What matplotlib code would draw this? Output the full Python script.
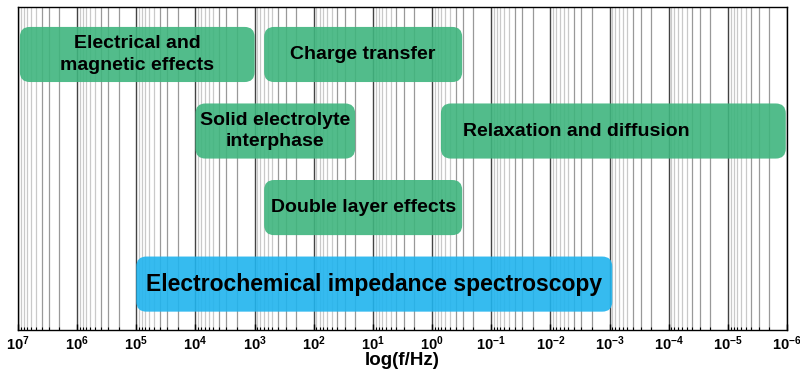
import numpy as np
import matplotlib.pyplot as plt
from matplotlib.patches import FancyBboxPatch
from matplotlib.ticker import LogLocator, FuncFormatter, NullFormatter

plt.rcParams['font.family'] = ['Liberation Sans', 'DejaVu Sans']
plt.rcParams['font.weight'] = 'bold'
plt.rcParams['mathtext.fontset'] = 'custom'
plt.rcParams['mathtext.bf'] = 'Liberation Sans:bold'
plt.rcParams['mathtext.rm'] = 'Liberation Sans:bold'

# frequency windows (Hz) of each process
labels = ["Electrical and\nmagnetic effects", "Charge transfer",
          "Solid electrolyte\ninterphase", "Relaxation and diffusion",
          "Double layer effects", "Electrochemical impedance spectroscopy"]
f_high = [9.3e6, 690, 1e4, 0.71, 690, 1e5]
f_low = [1e3, 0.31, 20, 1.05e-6, 0.31, 9e-4]
rows = [3, 3, 2, 2, 1, 0]
kinds = ["process", "process", "process", "process", "process", "method"]

box_colors = {"process": "#3fb57e", "method": "#20b4ee"}

fig = plt.figure(figsize=(8, 3.74), dpi=100)
ax = fig.add_axes([0.0225, 0.1176, 0.9613, 0.8636])
ax.set_xscale("log")
ax.set_xlim(1e7, 1e-6)
ax.set_ylim(-0.6, 3.62)
ax.set_yticks([])

ax.xaxis.set_major_locator(LogLocator(base=10, numticks=20))
ax.xaxis.set_minor_locator(LogLocator(base=10, subs=np.arange(2, 10), numticks=20))
ax.xaxis.set_minor_formatter(NullFormatter())
ax.xaxis.set_major_formatter(FuncFormatter(lambda v, p: r"$\mathbf{10^{%d}}$" % round(np.log10(v))))
ax.tick_params(axis="x", which="major", direction="in", length=4, width=1,
               labelsize=10.5, pad=3)
ax.tick_params(axis="x", which="minor", direction="in", length=2, width=0.8)

# vertical grid: decades dark, low subdivisions mid grey, upper ones faint
ax.grid(True, which="major", axis="x", color="#222222", lw=1.0, alpha=0.85, zorder=0)
for subs, col, a in [((2, 3, 4), "#555555", 0.6), ((5, 6, 7, 8, 9), "#888888", 0.45)]:
    pos = LogLocator(base=10, subs=subs, numticks=20).tick_values(1e-6, 1e7)
    pos = pos[(pos < 1e7) & (pos > 1e-6)]
    ax.vlines(pos, -0.6, 3.62, color=col, lw=0.9, alpha=a, zorder=0)
ax.set_axisbelow(True)

for sp in ax.spines.values():
    sp.set_linewidth(1.0)
    sp.set_color("black")

ax.set_xlabel("log(f/Hz)", fontsize=13.5, fontweight="bold", labelpad=-0.5)

fig.canvas.draw()
to_axes = ax.transScale + ax.transLimits
bb = ax.get_window_extent()
aspect = bb.width / bb.height
h = 0.72
for lab, hi, lo, r, k in zip(labels, f_high, f_low, rows, kinds):
    (x0, y0) = to_axes.transform((hi, r - h / 2))
    (x1, y1) = to_axes.transform((lo, r + h / 2))
    box = FancyBboxPatch((x0, y0), x1 - x0, y1 - y0,
                         boxstyle="round,pad=0,rounding_size=0.013",
                         mutation_aspect=aspect, transform=ax.transAxes,
                         facecolor=box_colors[k], edgecolor="none",
                         alpha=0.9, zorder=3)
    ax.add_patch(box)
    size = 16.5 if k == "method" else 14
    if lab.startswith("Relaxation"):
        ax.text(x0 + 22 / bb.width, (y0 + y1) / 2, lab, transform=ax.transAxes,
                ha="left", va="center", fontsize=size, fontweight="bold",
                color="black", zorder=4)
    else:
        ax.text((x0 + x1) / 2, (y0 + y1) / 2, lab, transform=ax.transAxes,
                ha="center", va="center", fontsize=size, fontweight="bold",
                color="black", linespacing=1.35, zorder=4)

fig.savefig("out.png", dpi=100)
